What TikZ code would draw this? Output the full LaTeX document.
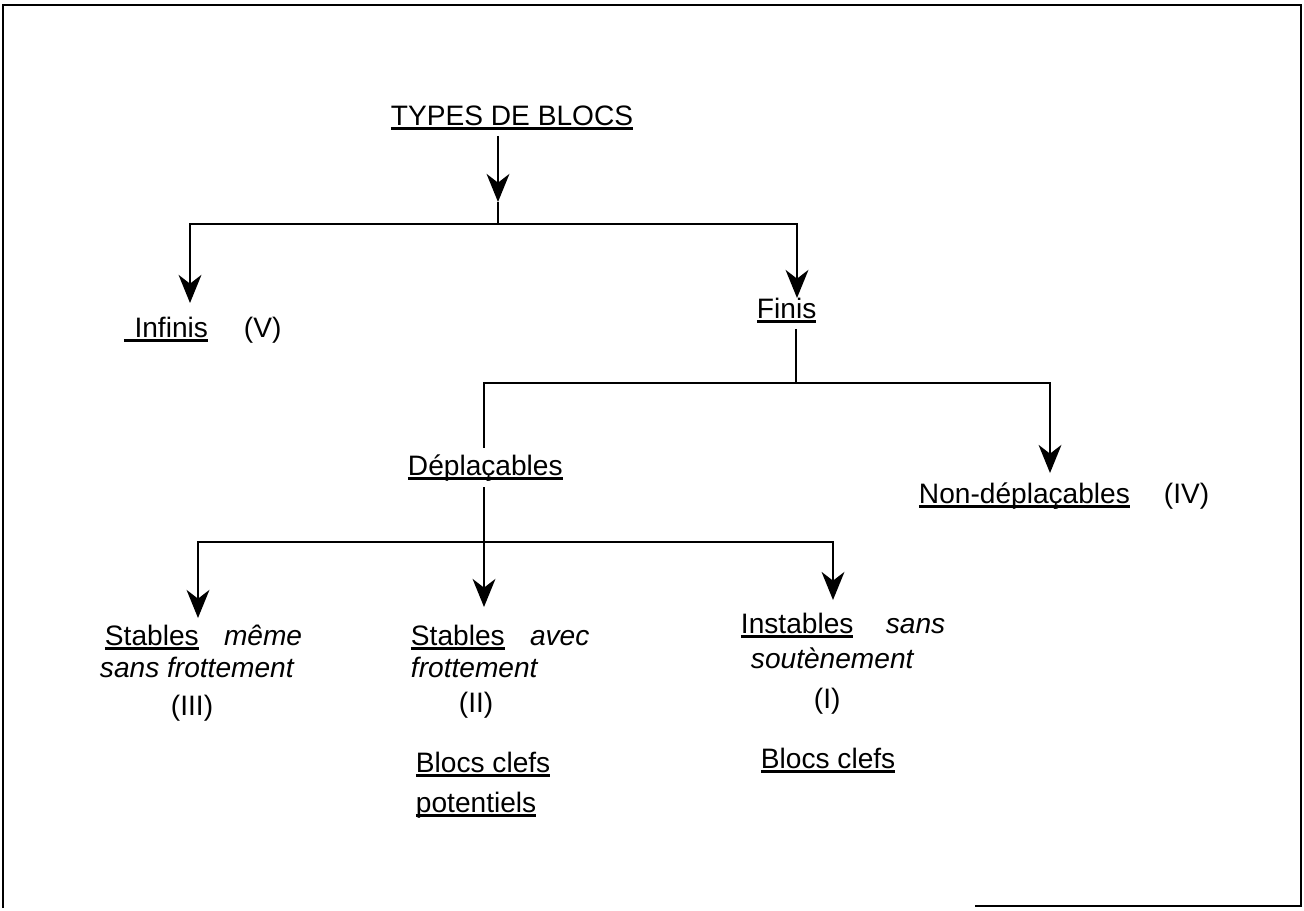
\documentclass[tikz,border=0pt]{standalone}
\usepackage{fontspec}
\setmainfont{Liberation Sans}
\usetikzlibrary{arrows.meta}
\newcommand\souligne[1]{\setbox0=\hbox{#1}\rlap{\rule[-2.6pt]{\wd0}{1.2pt}}\box0}

\begin{document}
\begin{tikzpicture}[x=0.02cm, y=-0.02cm, line width=1.1pt,
    >={Stealth[length=16pt, width=13pt, inset=5pt]},
    font=\fontsize{16}{19}\selectfont,
    texte/.style={inner xsep=0pt, inner ysep=3pt, anchor=base west}]
    \useasboundingbox (0,0) rectangle (1304,910);

    % --- Cadre ---
    \draw[line width=1.6pt] (3,908) -- (3,5) -- (1301,5) -- (1301,906) -- (975,906);

    % --- Niveaux 1 et 2 ---
    \node[texte] (types) at (390,125) {\souligne{TYPES DE BLOCS}};
    \node[texte] (infinis) at (123,337) {\souligne{\hspace{6pt}Infinis}};
    \node[texte] (infV) at (243,337) {(V)};
    \node[texte] (finis) at (756,318) {\souligne{Finis}};

    % --- Niveau 3 ---
    \node[texte] (depl) at (407,475) {\souligne{Déplaçables}};
    \node[texte] (nondepl) at (918,503) {\souligne{Non-déplaçables}};
    \node[texte] (nondeplIV) at (1163,503) {(IV)};

    % --- Niveau 4 ---
    \node[texte] (s3a) at (104,645) {\souligne{Stables}\hspace{0.9em}\textit{même}};
    \node[texte] (s3b) at (99,677) {\textit{sans frottement}};
    \node[texte] (s3c) at (170,715) {(III)};

    \node[texte] (s2a) at (410,645) {\souligne{Stables}\hspace{0.9em}\textit{avec}};
    \node[texte] (s2b) at (410,677) {\textit{frottement}};
    \node[texte] (s2c) at (458,712) {(II)};
    \node[texte] (s2d) at (415,772) {\souligne{Blocs clefs}};
    \node[texte] (s2e) at (415,812) {\souligne{potentiels}};

    \node[texte] (i1a) at (740,633) {\souligne{Instables}\hspace{1.15em}\textit{sans}};
    \node[texte] (i1b) at (750,668) {\textit{soutènement}};
    \node[texte] (i1c) at (813,708) {(I)};
    \node[texte] (i1d) at (760,768) {\souligne{Blocs clefs}};

    % --- Liaisons ---
    \coordinate (t0) at (498,202);
    \coordinate (j1) at (498,224);
    \coordinate (pInf) at (190,303);
    \coordinate (pFin) at (797,298);
    \coordinate (j2) at (796,383);
    \coordinate (pNon) at (1050,473);
    \coordinate (j3) at (484,542);
    \coordinate (pII) at (484,607);
    \coordinate (pIII) at (198,618);
    \coordinate (pI) at (833,600);

    \draw[->] (types.south -| t0) -- (t0);
    \draw (t0) -- (j1);
    \draw[->] (j1) -| (pInf);
    \draw[->] (j1) -| (pFin);
    \draw (finis.south -| j2) -- (j2);
    \draw (j2) -| (depl.north -| j3);
    \draw[->] (j2) -| (pNon);
    \draw[->] (depl.south -| pII) -- (pII);
    \draw[->] (j3) -| (pIII);
    \draw[->] (j3) -| (pI);
\end{tikzpicture}
\end{document}
